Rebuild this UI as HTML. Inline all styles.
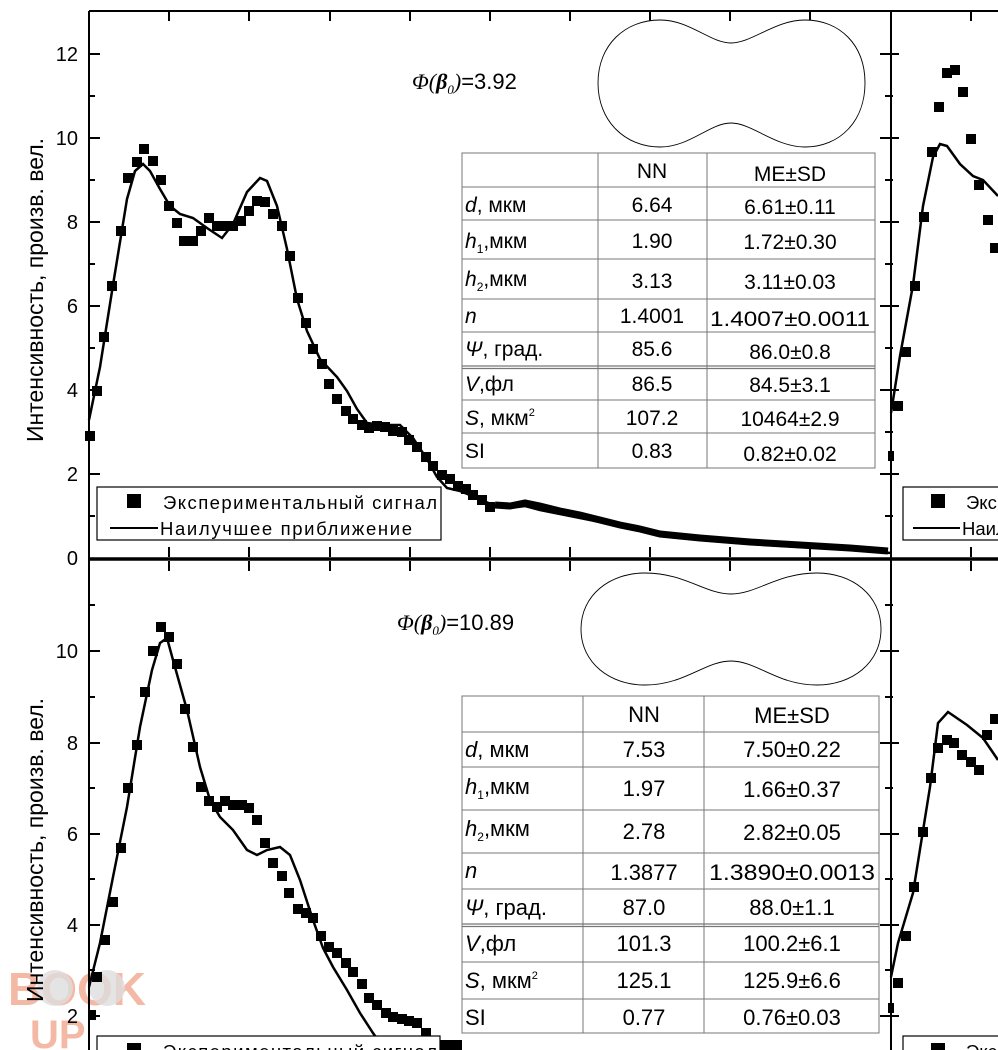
<!DOCTYPE html>
<html><head><meta charset="utf-8"><style>
html,body{margin:0;padding:0;background:#fff;}
svg{display:block;font-family:"Liberation Sans",sans-serif;}
</style></head><body>
<svg width="998" height="1050" viewBox="0 0 998 1050" xmlns="http://www.w3.org/2000/svg">
<rect width="998" height="1050" fill="#fff"/>
<g fill="#f4b9a4" font-weight="bold" font-size="46" font-family="Liberation Sans,sans-serif">
<text x="8" y="1005">BOOK</text><text x="30" y="1048" font-size="40">UP</text>
<circle cx="55" cy="988" r="18" fill="#ddd" opacity="0.8"/><circle cx="107" cy="988" r="18" fill="#ddd" opacity="0.8"/>
</g>
<g stroke="#000" fill="none">
<line x1="89" y1="11" x2="891" y2="11" stroke-width="2"/>
<line x1="89" y1="11" x2="89" y2="1050" stroke-width="2"/>
<line x1="891" y1="11" x2="891" y2="1050" stroke-width="2"/>
<line x1="891" y1="11" x2="998" y2="11" stroke-width="2"/>
<line x1="89" y1="559" x2="998" y2="559" stroke-width="3.5"/>
</g>
<g stroke="#000" stroke-width="2">
<path d="M169 11v10M249 11v10M330 11v10M410 11v10M490 11v10M570 11v10M650 11v10M730 11v10M810 11v10M971 11v10"/>
<path d="M169 557v-10M249 557v-10M330 557v-10M410 557v-10M490 557v-10M570 557v-10M650 557v-10M730 557v-10M810 557v-10M971 557v-10"/>
<path d="M169 561v10M249 561v10M330 561v10M410 561v10M490 561v10M570 561v10M650 561v10M730 561v10M810 561v10M971 561v10"/>
<path d="M89 54h11M89 138h11M89 222h11M89 306h11M89 390h11M89 474h11M89 96h6M89 180h6M89 264h6M89 348h6M89 432h6M89 516h6"/>
<path d="M89 605h6M89 651h11M89 697h6M89 743h11M89 788h6M89 834h11M89 879h6M89 925h11M89 970h6M89 1016h11"/>
<path d="M880 54h19M880 138h19M880 222h19M880 306h19M880 390h19M880 474h19M885 96h8M885 180h8M885 264h8M885 348h8M885 432h8M885 516h8"/>
<path d="M885 605h8M880 651h19M885 697h8M880 743h19M885 788h8M880 834h19M885 879h8M880 925h19M885 970h8M880 1016h19"/>
</g>
<g font-size="20" text-anchor="end" fill="#000">
<text x="78" y="61">12</text><text x="78" y="145">10</text><text x="78" y="229">8</text><text x="78" y="313">6</text><text x="78" y="397">4</text><text x="78" y="481">2</text><text x="78" y="565">0</text>
<text x="78" y="658">10</text><text x="78" y="750">8</text><text x="78" y="841">6</text><text x="78" y="932">4</text><text x="78" y="1023">2</text>
</g>
<g font-size="23" fill="#000">
<text transform="translate(43,290) rotate(-90)" text-anchor="middle">Интенсивность, произв. вел.</text>
<text transform="translate(43,850) rotate(-90)" text-anchor="middle">Интенсивность, произв. вел.</text>
</g>
<polyline fill="none" stroke="#000" stroke-width="2.5" points="89,420 100,367 113,285 127,199 135,171 143,164 150,171 160,189 170,206 180,214 193,218 207,228 222,238 233,224 247,192 260,178 267,181 277,206 287,249 297,299 307,331 320,359 337,377 347,391 357,409 367,423 383,425 400,425 413,438 427,459 437,477 447,488 460,491 477,498 493,505 510,508 525,506 540,510 560,514 580,518 600,522 620,527 640,531 660,536 700,540 750,544 800,547 850,550 891,553"/>
<g fill="#000">
<rect x="85" y="431" width="10" height="10"/><rect x="92" y="386" width="10" height="10"/><rect x="99" y="332" width="10" height="10"/><rect x="107" y="281" width="10" height="10"/><rect x="116" y="226" width="10" height="10"/><rect x="123" y="173" width="10" height="10"/><rect x="132" y="157" width="10" height="10"/><rect x="139" y="144" width="10" height="10"/><rect x="148" y="156" width="10" height="10"/><rect x="156" y="175" width="10" height="10"/><rect x="164" y="201" width="10" height="10"/><rect x="172" y="218" width="10" height="10"/><rect x="179" y="236" width="10" height="10"/><rect x="188" y="236" width="10" height="10"/><rect x="196" y="226" width="10" height="10"/><rect x="204" y="213" width="10" height="10"/><rect x="212" y="221" width="10" height="10"/><rect x="221" y="221" width="10" height="10"/><rect x="228" y="221" width="10" height="10"/><rect x="236" y="216" width="10" height="10"/><rect x="244" y="206" width="10" height="10"/><rect x="252" y="196" width="10" height="10"/><rect x="260" y="197" width="10" height="10"/><rect x="268" y="209" width="10" height="10"/><rect x="277" y="221" width="10" height="10"/><rect x="285" y="251" width="10" height="10"/><rect x="293" y="293" width="10" height="10"/><rect x="301" y="318" width="10" height="10"/><rect x="308" y="344" width="10" height="10"/><rect x="317" y="359" width="10" height="10"/><rect x="324" y="379" width="10" height="10"/><rect x="332" y="394" width="10" height="10"/><rect x="341" y="406" width="10" height="10"/><rect x="348" y="414" width="10" height="10"/><rect x="357" y="420" width="10" height="10"/><rect x="364" y="423" width="10" height="10"/><rect x="372" y="421" width="10" height="10"/><rect x="380" y="422" width="10" height="10"/><rect x="388" y="426" width="10" height="10"/><rect x="397" y="427" width="10" height="10"/><rect x="404" y="435" width="10" height="10"/><rect x="412" y="442" width="10" height="10"/><rect x="421" y="452" width="10" height="10"/><rect x="428" y="461" width="10" height="10"/><rect x="437" y="470" width="10" height="10"/><rect x="445" y="474" width="10" height="10"/><rect x="453" y="481" width="10" height="10"/><rect x="461" y="484" width="10" height="10"/><rect x="468" y="490" width="10" height="10"/><rect x="477" y="495" width="10" height="10"/><rect x="485" y="502" width="10" height="10"/>
</g>
<polyline fill="none" stroke="#000" stroke-width="7" points="495,505 510,506 525,503 540,506 560,511 580,515 600,520 620,525 640,529 660,534 700,538 750,542 800,545 850,548 888,551"/>
<polyline fill="none" stroke="#000" stroke-width="2.5" points="89,987 100,943 113,877 127,807 140,727 152,670 160,643 167,638 173,660 187,710 200,767 210,800 220,817 233,830 247,850 257,855 267,850 280,847 290,855 300,880 313,920 323,948 333,967 347,990 360,1013 373,1033 385,1050"/>
<g fill="#000">
<rect x="88" y="1010" width="8" height="10"/><rect x="92" y="972" width="10" height="10"/><rect x="100" y="935" width="10" height="10"/><rect x="108" y="897" width="10" height="10"/><rect x="116" y="843" width="10" height="10"/><rect x="123" y="783" width="10" height="10"/><rect x="132" y="740" width="10" height="10"/><rect x="140" y="687" width="10" height="10"/><rect x="148" y="646" width="10" height="10"/><rect x="156" y="622" width="10" height="10"/><rect x="164" y="632" width="10" height="10"/><rect x="172" y="659" width="10" height="10"/><rect x="180" y="704" width="10" height="10"/><rect x="188" y="742" width="10" height="10"/><rect x="196" y="782" width="10" height="10"/><rect x="204" y="796" width="10" height="10"/><rect x="212" y="802" width="10" height="10"/><rect x="220" y="796" width="10" height="10"/><rect x="228" y="800" width="10" height="10"/><rect x="237" y="800" width="10" height="10"/><rect x="244" y="803" width="10" height="10"/><rect x="252" y="815" width="10" height="10"/><rect x="260" y="838" width="10" height="10"/><rect x="268" y="858" width="10" height="10"/><rect x="277" y="871" width="10" height="10"/><rect x="284" y="888" width="10" height="10"/><rect x="293" y="904" width="10" height="10"/><rect x="301" y="908" width="10" height="10"/><rect x="308" y="913" width="10" height="10"/><rect x="316" y="931" width="10" height="10"/><rect x="324" y="942" width="10" height="10"/><rect x="332" y="948" width="10" height="10"/><rect x="341" y="958" width="10" height="10"/><rect x="348" y="967" width="10" height="10"/><rect x="357" y="979" width="10" height="10"/><rect x="364" y="993" width="10" height="10"/><rect x="372" y="1000" width="10" height="10"/><rect x="381" y="1008" width="10" height="10"/><rect x="388" y="1012" width="10" height="10"/><rect x="397" y="1014" width="10" height="10"/><rect x="404" y="1016" width="10" height="10"/><rect x="412" y="1018" width="10" height="10"/><rect x="421" y="1028" width="10" height="10"/>
<rect x="440" y="1040" width="22" height="10"/>
</g>
<polyline fill="none" stroke="#000" stroke-width="2.5" points="891,413 900,356 913,285 923,206 933,157 940,144 947,146 960,164 973,176 983,180 998,196"/>
<g fill="#000">
<rect x="888" y="451" width="6" height="10"/><rect x="893" y="401" width="10" height="10"/><rect x="901" y="347" width="10" height="10"/><rect x="910" y="281" width="10" height="10"/><rect x="919" y="212" width="10" height="10"/><rect x="927" y="147" width="10" height="10"/><rect x="934" y="102" width="10" height="10"/><rect x="942" y="68" width="10" height="10"/><rect x="950" y="65" width="10" height="10"/><rect x="958" y="87" width="10" height="10"/><rect x="966" y="134" width="10" height="10"/><rect x="974" y="180" width="10" height="10"/><rect x="983" y="215" width="10" height="10"/><rect x="990" y="243" width="10" height="10"/>
</g>
<polyline fill="none" stroke="#000" stroke-width="2.5" points="891,977 898,943 913,893 930,787 938,723 948,712 967,725 983,738 998,760"/>
<g fill="#000">
<rect x="888" y="1003" width="6" height="10"/><rect x="893" y="978" width="10" height="10"/><rect x="901" y="931" width="10" height="10"/><rect x="909" y="882" width="10" height="10"/><rect x="918" y="827" width="10" height="10"/><rect x="926" y="773" width="10" height="10"/><rect x="933" y="743" width="10" height="10"/><rect x="942" y="735" width="10" height="10"/><rect x="949" y="738" width="10" height="10"/><rect x="957" y="750" width="10" height="10"/><rect x="966" y="757" width="10" height="10"/><rect x="974" y="765" width="10" height="10"/><rect x="982" y="730" width="10" height="10"/><rect x="990" y="714" width="10" height="10"/>
</g>
<g stroke="#000" stroke-width="1.2" fill="#fff">
<rect x="97" y="487" width="344" height="53"/>
<rect x="903" y="487" width="100" height="53"/>
<rect x="97" y="1036" width="343" height="20"/>
<rect x="903" y="1036" width="100" height="20"/>
</g>
<g fill="#000">
<rect x="127" y="494" width="14" height="14"/>
<rect x="931" y="494" width="14" height="14"/>
<rect x="127" y="1043" width="14" height="14"/>
<rect x="931" y="1043" width="14" height="14"/>
</g>
<g stroke="#000" stroke-width="2"><line x1="110" y1="528" x2="158" y2="528"/><line x1="913" y1="528" x2="960" y2="528"/></g>
<g font-size="18.5" fill="#000">
<text x="163" y="509" textLength="274">Экспериментальный сигнал</text>
<text x="160" y="535" textLength="252">Наилучшее приближение</text>
<text x="966" y="509">Экспериментальный</text>
<text x="962" y="535">Наилучшее</text>
<text x="163" y="1058" textLength="274">Экспериментальный сигнал</text>
<text x="966" y="1058">Экспериментальный</text>
</g>
<g font-size="22" fill="#000">
<text x="412" y="89"><tspan font-family="Liberation Serif,serif" font-style="italic">Φ(<tspan font-weight="bold">β</tspan><tspan font-size="13" dy="5">0</tspan><tspan dy="-5">)</tspan></tspan>=3.92</text>
<text x="397" y="630"><tspan font-family="Liberation Serif,serif" font-style="italic">Φ(<tspan font-weight="bold">β</tspan><tspan font-size="13" dy="5">0</tspan><tspan dy="-5">)</tspan></tspan>=10.89</text>
</g>
<g fill="#fff" stroke="#000" stroke-width="0.9">
<path d="M598 83 C598 45,625 20,660 20 C690 20,710 43,731 43 C752 43,775 20,805 20 C840 20,865 45,865 83 C865 121,840 147,805 147 C775 147,752 123,731 123 C710 123,690 147,660 147 C625 147,598 121,598 83Z"/>
<path d="M581 629 C581 595,610 573,645 573 C685 573,705 594,731 594 C757 594,777 573,817 573 C852 573,881 595,881 629 C881 663,852 685,817 685 C777 685,757 661,731 661 C705 661,685 685,645 685 C610 685,581 663,581 629Z"/>
</g>
<rect x="462" y="153" width="413" height="315" fill="#fff"/>
<g stroke="#777" stroke-width="1" fill="none">
<rect x="462" y="153" width="413" height="315"/>
<path d="M598 153V468M707 153V468M462 187H875M462 220H875M462 259H875M462 299H875M462 332H875M462 400H875M462 433H875"/>
<path d="M462 366H875M462 368.5H875" stroke-width="1.2"/>
</g>
<g font-size="21" fill="#000">
<g text-anchor="middle">
<text x="652" y="178">NN</text><text x="790" y="181">ME±SD</text>
<text x="652" y="212">6.64</text><text x="790" y="214">6.61±0.11</text>
<text x="652" y="248">1.90</text><text x="790" y="249">1.72±0.30</text>
<text x="652" y="288">3.13</text><text x="790" y="289">3.11±0.03</text>
<text x="652" y="323">1.4001</text><text x="790" y="326" textLength="160" lengthAdjust="spacingAndGlyphs">1.4007±0.0011</text>
<text x="652" y="356">85.6</text><text x="790" y="359">86.0±0.8</text>
<text x="652" y="391">86.5</text><text x="790" y="392">84.5±3.1</text>
<text x="652" y="425">107.2</text><text x="790" y="426">10464±2.9</text>
<text x="652" y="458">0.83</text><text x="790" y="461">0.82±0.02</text>
</g>
<text x="465" y="212"><tspan font-style="italic">d</tspan>, мкм</text>
<text x="465" y="248"><tspan font-style="italic">h</tspan><tspan font-size="12" dy="5">1</tspan><tspan dy="-5">,мкм</tspan></text>
<text x="465" y="286"><tspan font-style="italic">h</tspan><tspan font-size="12" dy="5">2</tspan><tspan dy="-5">,мкм</tspan></text>
<text x="465" y="323" font-style="italic">n</text>
<text x="465" y="356"><tspan font-style="italic">Ψ</tspan>, град.</text>
<text x="465" y="391"><tspan font-style="italic">V</tspan>,фл</text>
<text x="465" y="425"><tspan font-style="italic">S</tspan>, мкм<tspan font-size="11" dy="-9">2</tspan></text>
<text x="465" y="458">SI</text>
</g>
<rect x="462" y="696" width="417" height="337" fill="#fff"/>
<g stroke="#777" stroke-width="1" fill="none">
<rect x="462" y="696" width="417" height="337"/>
<path d="M583 696V1033M704 696V1033M462 732H879M462 767H879M462 810H879M462 853H879M462 889H879M462 962H879M462 999H879"/>
<path d="M462 924H879M462 926.5H879" stroke-width="1.2"/>
</g>
<g font-size="22" fill="#000">
<g text-anchor="middle">
<text x="644" y="722">NN</text><text x="792" y="723">ME±SD</text>
<text x="644" y="757">7.53</text><text x="792" y="757">7.50±0.22</text>
<text x="644" y="796">1.97</text><text x="792" y="797">1.66±0.37</text>
<text x="644" y="839">2.78</text><text x="792" y="840">2.82±0.05</text>
<text x="644" y="880">1.3877</text><text x="792" y="880" textLength="166" lengthAdjust="spacingAndGlyphs">1.3890±0.0013</text>
<text x="644" y="915">87.0</text><text x="792" y="915">88.0±1.1</text>
<text x="644" y="951">101.3</text><text x="792" y="951">100.2±6.1</text>
<text x="644" y="988">125.1</text><text x="792" y="988">125.9±6.6</text>
<text x="644" y="1025">0.77</text><text x="792" y="1025">0.76±0.03</text>
</g>
<text x="465" y="757"><tspan font-style="italic">d</tspan>, мкм</text>
<text x="465" y="794"><tspan font-style="italic">h</tspan><tspan font-size="12" dy="5">1</tspan><tspan dy="-5">,мкм</tspan></text>
<text x="465" y="836"><tspan font-style="italic">h</tspan><tspan font-size="12" dy="5">2</tspan><tspan dy="-5">,мкм</tspan></text>
<text x="465" y="878" font-style="italic">n</text>
<text x="465" y="915"><tspan font-style="italic">Ψ</tspan>, град.</text>
<text x="465" y="951"><tspan font-style="italic">V</tspan>,фл</text>
<text x="465" y="988"><tspan font-style="italic">S</tspan>, мкм<tspan font-size="11" dy="-9">2</tspan></text>
<text x="465" y="1025">SI</text>
</g>
</svg>
</body></html>
